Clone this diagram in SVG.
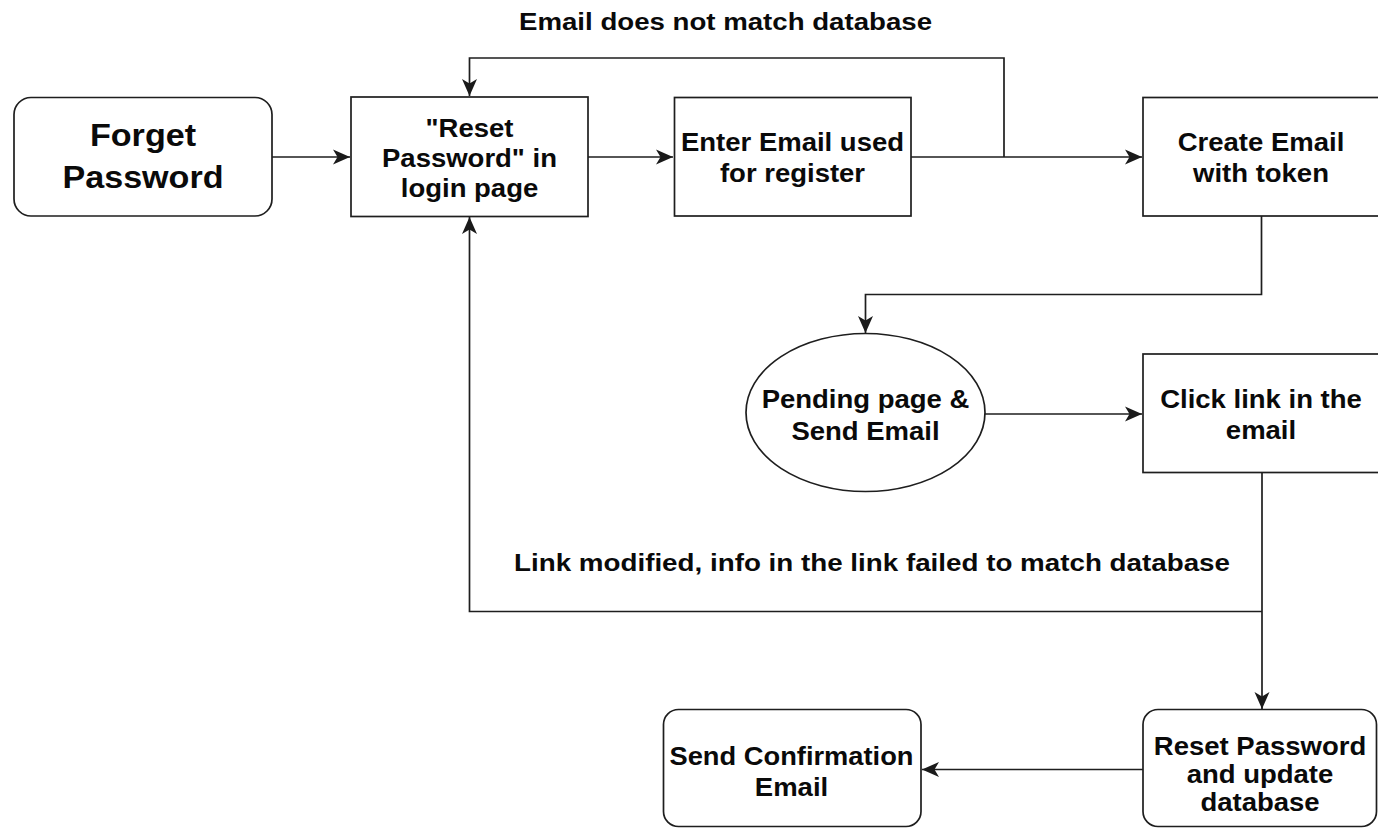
<svg xmlns="http://www.w3.org/2000/svg" width="1378" height="829" viewBox="0 0 1378 829">
  <style>
    .box { fill: #ffffff; stroke: #1e1e1e; stroke-width: 1.7; }
    .edge { fill: none; stroke: #1e1e1e; stroke-width: 1.7; }
    .t { font-family: "Liberation Sans", Arial, sans-serif; font-weight: bold; font-size: 25px; fill: #0a0a0a; text-anchor: middle; }
    .big { font-size: 31px; }
    .lbl { font-family: "Liberation Sans", Arial, sans-serif; font-weight: bold; font-size: 23px; fill: #0a0a0a; }
  </style>
  <defs>
    <marker id="arrow" markerUnits="userSpaceOnUse" markerWidth="20" markerHeight="18" viewBox="-18 -9 19 18" refX="0" refY="0" orient="auto">
      <path d="M0,0 L-17,-7.5 L-12.5,0 L-17,7.5 Z" fill="#1a1a1a"/>
    </marker>
  </defs>
  <rect width="1378" height="829" fill="#ffffff"/>

  <!-- connectors -->
  <g id="connectors">
    <line class="edge" x1="272" y1="157" x2="350" y2="157" marker-end="url(#arrow)"/>
    <line class="edge" x1="588" y1="157" x2="673" y2="157" marker-end="url(#arrow)"/>
    <line class="edge" x1="911" y1="157" x2="1142" y2="157" marker-end="url(#arrow)"/>
    <polyline class="edge" points="1004,157 1004,58 469.5,58 469.5,96" marker-end="url(#arrow)"/>
    <polyline class="edge" points="1261.5,216 1261.5,294.5 865.5,294.5 865.5,333" marker-end="url(#arrow)"/>
    <line class="edge" x1="985" y1="414" x2="1142" y2="414" marker-end="url(#arrow)"/>
    <line class="edge" x1="1262" y1="473" x2="1262" y2="709" marker-end="url(#arrow)"/>
    <polyline class="edge" points="1262,611.5 469.5,611.5 469.5,217" marker-end="url(#arrow)"/>
    <line class="edge" x1="1143" y1="769.5" x2="922" y2="769.5" marker-end="url(#arrow)"/>
    <text class="lbl" x="519" y="29.5" textLength="413" lengthAdjust="spacingAndGlyphs">Email does not match database</text>
    <text class="lbl" x="514" y="571" font-size="24" textLength="716" lengthAdjust="spacingAndGlyphs">Link modified, info in the link failed to match database</text>
  </g>

  <g id="forget-password">
    <rect class="box" x="14" y="97.5" width="258" height="118.5" rx="17"/>
    <text class="t big" transform="translate(143 0) scale(1.1 1)" x="0" y="146">Forget</text>
    <text class="t big" transform="translate(143 0) scale(1.1 1)" x="0" y="188">Password</text>
  </g>

  <g id="reset-link">
    <rect class="box" x="351" y="97" width="237" height="119.5"/>
    <text class="t" transform="translate(469.5 0) scale(1.1 1)" x="0" y="137">"Reset</text>
    <text class="t" transform="translate(469.5 0) scale(1.1 1)" x="0" y="167">Password" in</text>
    <text class="t" transform="translate(469.5 0) scale(1.1 1)" x="0" y="197">login page</text>
  </g>

  <g id="enter-email">
    <rect class="box" x="674.5" y="97.5" width="236.5" height="118.5"/>
    <text class="t" transform="translate(792.5 0) scale(1.1 1)" x="0" y="151.5">Enter Email used</text>
    <text class="t" transform="translate(792.5 0) scale(1.1 1)" x="0" y="182.5">for register</text>
  </g>

  <g id="create-email">
    <rect class="box" x="1143" y="97.5" width="240" height="118.5"/>
    <text class="t" transform="translate(1261 0) scale(1.1 1)" x="0" y="151.5">Create Email</text>
    <text class="t" transform="translate(1261 0) scale(1.1 1)" x="0" y="182.5">with token</text>
  </g>

  <g id="pending-page">
    <ellipse class="box" cx="865.5" cy="412.5" rx="119.5" ry="79"/>
    <text class="t" transform="translate(865.5 0) scale(1.1 1)" x="0" y="408.5">Pending page &amp;</text>
    <text class="t" transform="translate(865.5 0) scale(1.1 1)" x="0" y="440">Send Email</text>
  </g>

  <g id="click-link">
    <rect class="box" x="1143" y="354" width="240" height="118.5"/>
    <text class="t" transform="translate(1261 0) scale(1.1 1)" x="0" y="408.5">Click link in the</text>
    <text class="t" transform="translate(1261 0) scale(1.1 1)" x="0" y="439.5">email</text>
  </g>

  <g id="reset-password">
    <rect class="box" x="1143" y="709.5" width="233.5" height="117" rx="15"/>
    <text class="t" transform="translate(1260 0) scale(1.1 1)" x="0" y="755">Reset Password</text>
    <text class="t" transform="translate(1260 0) scale(1.1 1)" x="0" y="783">and update</text>
    <text class="t" transform="translate(1260 0) scale(1.1 1)" x="0" y="811">database</text>
  </g>

  <g id="send-confirmation">
    <rect class="box" x="663.5" y="709.5" width="257.5" height="117" rx="15"/>
    <text class="t" x="791.5" y="764.5" textLength="244" lengthAdjust="spacingAndGlyphs">Send Confirmation</text>
    <text class="t" transform="translate(791.5 0) scale(1.1 1)" x="0" y="796.5">Email</text>
  </g>
</svg>
